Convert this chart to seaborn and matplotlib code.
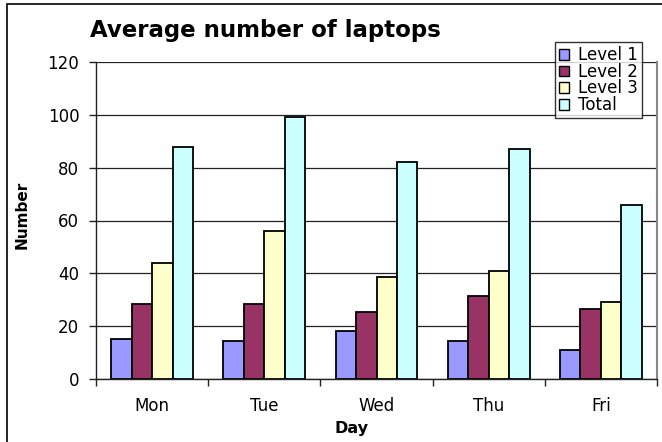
import numpy as np
import pandas as pd
import matplotlib
matplotlib.use("Agg")
import matplotlib.pyplot as plt
from matplotlib.patches import Rectangle, Patch
from matplotlib.ticker import FixedLocator
import seaborn as sns

days = ["Mon", "Tue", "Wed", "Thu", "Fri"]
series = ["Level 1", "Level 2", "Level 3", "Total"]
level1 = [15, 14.5, 18, 14.5, 11]
level2 = [28.5, 28.5, 25.5, 31.5, 26.5]
level3 = [44, 56, 38.5, 41, 29]
total = [88, 99, 82, 87, 66]
colors = ["#9999FF", "#993366", "#FFFFCC", "#CCFFFF"]
yticks = [0, 20, 40, 60, 80, 100, 120]

sns.set_theme(style="white")
plt.rcParams["font.family"] = ["DejaVu Sans"]
plt.rcParams["text.color"] = "black"
plt.rcParams["axes.labelcolor"] = "black"

df = pd.DataFrame({
    "Day": days * 4,
    "Series": sum([[s] * len(days) for s in series], []),
    "Number": level1 + level2 + level3 + total,
})

W, H = 662, 442
fig = plt.figure(figsize=(W / 100, H / 100), dpi=100)
ax = fig.add_axes([96 / W, 1 - 379 / H, (657 - 96) / W, (379 - 62) / H])

sns.barplot(data=df, x="Day", y="Number", hue="Series", order=days,
            hue_order=series, palette=colors, saturation=1, width=0.73,
            edgecolor="black", linewidth=1.3, errorbar=None, ax=ax,
            legend=False)

ax.set_ylim(0, 120)
ax.set_xlim(-0.5, len(days) - 0.5)
ax.set_yticks(yticks)
ax.set_yticklabels([str(v) for v in yticks])
ax.yaxis.grid(True, color="#222222", linewidth=0.9)
ax.set_axisbelow(True)
ax.set_xlabel("")
ax.set_ylabel("")

ax.spines["top"].set_visible(False)
ax.spines["left"].set_color("#222222")
ax.spines["bottom"].set_color("#222222")
ax.spines["right"].set_color("#888888")
ax.spines["right"].set_linewidth(1.5)
ax.spines["left"].set_linewidth(1.0)
ax.spines["bottom"].set_linewidth(1.0)

ax.tick_params(axis="y", which="major", left=True, length=5, width=1,
               color="#222222", pad=7, labelsize=12, labelcolor="black")
ax.tick_params(axis="x", which="major", bottom=False, length=0, pad=13,
               labelsize=12, labelcolor="black")
ax.xaxis.set_minor_locator(FixedLocator(np.arange(-0.5, len(days), 1.0)))
ax.tick_params(axis="x", which="minor", bottom=True, length=5, width=1,
               color="#222222")

fig.text(90 / W, 1 - 30 / H, "Average number of laptops", fontsize=16.5,
         fontweight="bold", ha="left", va="center", color="black")
fig.text(352 / W, 1 - 428 / H, "Day", fontsize=11.5, fontweight="bold",
         ha="center", va="center", color="black")
fig.text(22 / W, 1 - 215 / H, "Number", fontsize=11, fontweight="bold",
         rotation=90, ha="center", va="center", color="black")

handles = [Patch(facecolor=c, edgecolor="black", linewidth=1.0) for c in colors]
leg = fig.legend(handles, series, loc="upper left",
                 bbox_to_anchor=(555 / W, 1 - 42 / H),
                 bbox_transform=fig.transFigure, fontsize=12,
                 frameon=True, fancybox=False, shadow=False,
                 handlelength=0.6, handleheight=0.6, handletextpad=0.55,
                 labelspacing=-0.08, borderpad=0.25, borderaxespad=0)
leg.get_frame().set_edgecolor("black")
leg.get_frame().set_linewidth(1.0)
leg.get_frame().set_facecolor("white")
for t in leg.get_texts():
    t.set_color("black")

fig.add_artist(Rectangle((7 / W, -0.1), 2, 1 - 4.5 / H + 0.1,
                         transform=fig.transFigure, fill=False,
                         edgecolor="black", linewidth=1.2))

fig.savefig("out.png", dpi=100)
